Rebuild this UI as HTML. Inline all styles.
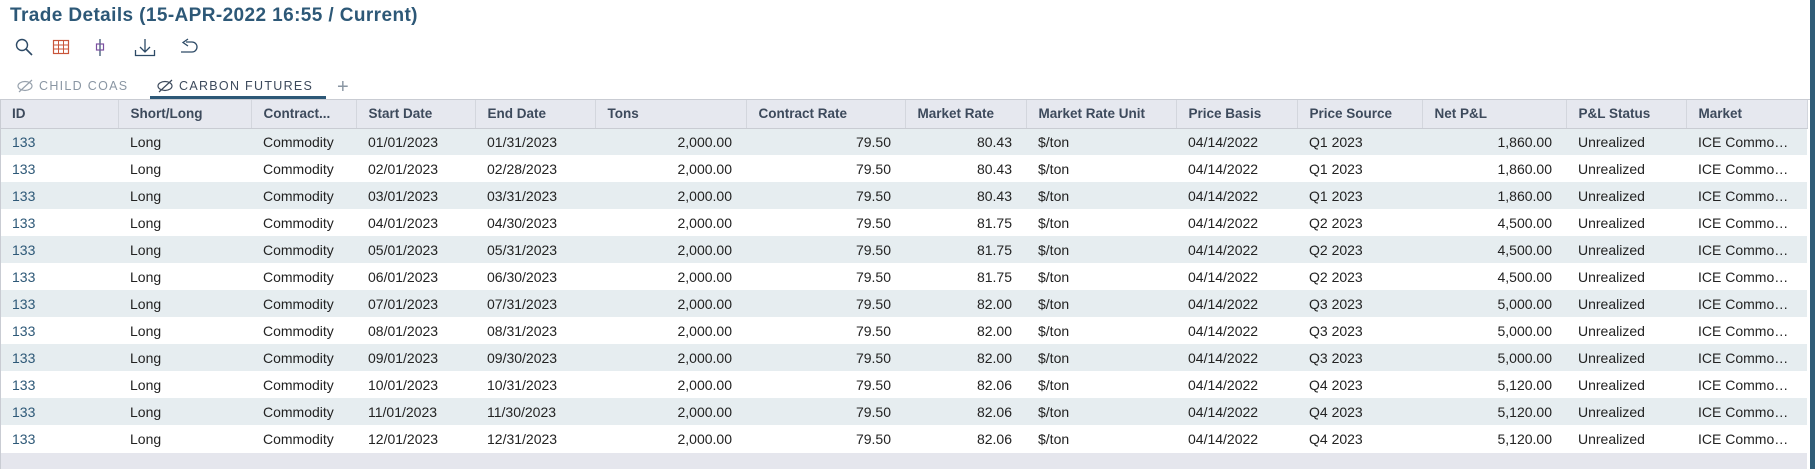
<!DOCTYPE html>
<html><head><meta charset="utf-8"><style>
*{margin:0;padding:0;box-sizing:border-box}
body{width:1815px;height:469px;background:#fff;font-family:"Liberation Sans",Arial,sans-serif;position:relative;overflow:hidden}
.title{position:absolute;left:10px;top:5px;font-size:19px;font-weight:bold;color:#2d5877;letter-spacing:0.4px}
.ic{position:absolute;top:38px}
.tab{position:absolute;top:79px;font-size:12.5px;letter-spacing:1.3px;color:#8a96a3}
.tab.act{color:#3d4a5c}
.ul{position:absolute;left:150px;top:96px;width:176px;height:3px;background:#2d5877}
.line{position:absolute;left:0;top:99px;width:1810px;height:1px;background:#c9ccd3}
table{position:absolute;left:0;top:100px;border-collapse:collapse;table-layout:fixed;width:1807px;font-size:14px}
th{height:28px;background:#e6e8ef;color:#3d4a5c;font-weight:bold;text-align:left;padding-left:12px;border-right:1px solid #d3d6dd;border-bottom:1px solid #c9ccd3;font-size:13.5px}
td{height:27px;padding-left:12px;color:#222;white-space:nowrap;overflow:hidden}
td.r{text-align:right;padding-right:14px;padding-left:0}
td.id{color:#2d5877}
tr.a td{background:#e6edf0}
tr.b td{background:#fff}
.bot{position:absolute;left:0;top:453px;width:1807px;height:16px;background:#e5e6ed}
.sb{position:absolute;left:1810px;top:0;width:5px;height:469px;background:#2f5d78}
.lb{position:absolute;left:0;top:100px;width:1px;height:369px;background:#c9ccd3}
</style></head><body>
<div class="title">Trade Details (15-APR-2022 16:55 / Current)</div>
<svg class="ic" style="left:14px" width="20" height="20"><circle cx="8" cy="7" r="5.5" fill="none" stroke="#2d4a66" stroke-width="1.4"/><line x1="12" y1="11" x2="18" y2="17" stroke="#2d4a66" stroke-width="1.6"/></svg>
<svg class="ic" style="left:52px" width="20" height="20"><rect x="1.5" y="2.5" width="15" height="13" fill="none" stroke="#c9553a" stroke-width="1.2"/><path d="M1.5 7h15M1.5 11h15M6.5 2.5v13M11.5 2.5v13" stroke="#c9553a" stroke-width="1"/></svg>
<svg class="ic" style="left:92px" width="20" height="20"><line x1="8" y1="1" x2="8" y2="18" stroke="#2d4a66" stroke-width="1.2"/><rect x="4.5" y="6" width="7" height="6" fill="none" stroke="#7b4fa0" stroke-width="1.2"/></svg>
<svg class="ic" style="left:134px" width="24" height="20"><path d="M11 1v13M6 9l5 5 5-5" fill="none" stroke="#2d4a66" stroke-width="1.3"/><path d="M1.5 12v5.5h19V12" fill="none" stroke="#2d4a66" stroke-width="1.3"/></svg>
<svg class="ic" style="left:177px" width="24" height="20"><path d="M4 14h11a5 5 0 0 0 0-10H9" fill="none" stroke="#2d4a66" stroke-width="1.3"/><path d="M11 1L6 4.5l5 3.5" fill="none" stroke="#2d4a66" stroke-width="1.3"/></svg>
<svg style="position:absolute;left:17px;top:79px" width="18" height="14"><ellipse cx="8" cy="7" rx="7" ry="4.5" fill="none" stroke="#98a2ad" stroke-width="1.2"/><line x1="2" y1="13" x2="15" y2="1" stroke="#98a2ad" stroke-width="1.2"/></svg>
<div class="tab" style="left:39px">CHILD COAS</div>
<svg style="position:absolute;left:157px;top:79px" width="18" height="14"><ellipse cx="8" cy="7" rx="7" ry="4.5" fill="none" stroke="#3d4a5c" stroke-width="1.2"/><line x1="2" y1="13" x2="15" y2="1" stroke="#3d4a5c" stroke-width="1.2"/></svg>
<div class="tab act" style="left:179px">CARBON FUTURES</div>
<div style="position:absolute;left:337px;top:76px;font-size:20px;color:#8a96a3">+</div>
<div class="line"></div>
<div class="ul"></div>
<table>
<colgroup><col style="width:118px"><col style="width:133px"><col style="width:105px"><col style="width:119px"><col style="width:120px"><col style="width:151px"><col style="width:159px"><col style="width:121px"><col style="width:150px"><col style="width:121px"><col style="width:125px"><col style="width:144px"><col style="width:120px"><col style="width:121px"></colgroup>
<tr><th>ID</th><th>Short/Long</th><th>Contract...</th><th>Start Date</th><th>End Date</th><th>Tons</th><th>Contract Rate</th><th>Market Rate</th><th>Market Rate Unit</th><th>Price Basis</th><th>Price Source</th><th>Net P&amp;L</th><th>P&amp;L Status</th><th>Market</th></tr>
<tr class="a"><td class="id">133</td><td>Long</td><td>Commodity</td><td>01/01/2023</td><td>01/31/2023</td><td class="r">2,000.00</td><td class="r">79.50</td><td class="r">80.43</td><td>$/ton</td><td>04/14/2022</td><td>Q1 2023</td><td class="r">1,860.00</td><td>Unrealized</td><td>ICE Commo…</td></tr>
<tr class="b"><td class="id">133</td><td>Long</td><td>Commodity</td><td>02/01/2023</td><td>02/28/2023</td><td class="r">2,000.00</td><td class="r">79.50</td><td class="r">80.43</td><td>$/ton</td><td>04/14/2022</td><td>Q1 2023</td><td class="r">1,860.00</td><td>Unrealized</td><td>ICE Commo…</td></tr>
<tr class="a"><td class="id">133</td><td>Long</td><td>Commodity</td><td>03/01/2023</td><td>03/31/2023</td><td class="r">2,000.00</td><td class="r">79.50</td><td class="r">80.43</td><td>$/ton</td><td>04/14/2022</td><td>Q1 2023</td><td class="r">1,860.00</td><td>Unrealized</td><td>ICE Commo…</td></tr>
<tr class="b"><td class="id">133</td><td>Long</td><td>Commodity</td><td>04/01/2023</td><td>04/30/2023</td><td class="r">2,000.00</td><td class="r">79.50</td><td class="r">81.75</td><td>$/ton</td><td>04/14/2022</td><td>Q2 2023</td><td class="r">4,500.00</td><td>Unrealized</td><td>ICE Commo…</td></tr>
<tr class="a"><td class="id">133</td><td>Long</td><td>Commodity</td><td>05/01/2023</td><td>05/31/2023</td><td class="r">2,000.00</td><td class="r">79.50</td><td class="r">81.75</td><td>$/ton</td><td>04/14/2022</td><td>Q2 2023</td><td class="r">4,500.00</td><td>Unrealized</td><td>ICE Commo…</td></tr>
<tr class="b"><td class="id">133</td><td>Long</td><td>Commodity</td><td>06/01/2023</td><td>06/30/2023</td><td class="r">2,000.00</td><td class="r">79.50</td><td class="r">81.75</td><td>$/ton</td><td>04/14/2022</td><td>Q2 2023</td><td class="r">4,500.00</td><td>Unrealized</td><td>ICE Commo…</td></tr>
<tr class="a"><td class="id">133</td><td>Long</td><td>Commodity</td><td>07/01/2023</td><td>07/31/2023</td><td class="r">2,000.00</td><td class="r">79.50</td><td class="r">82.00</td><td>$/ton</td><td>04/14/2022</td><td>Q3 2023</td><td class="r">5,000.00</td><td>Unrealized</td><td>ICE Commo…</td></tr>
<tr class="b"><td class="id">133</td><td>Long</td><td>Commodity</td><td>08/01/2023</td><td>08/31/2023</td><td class="r">2,000.00</td><td class="r">79.50</td><td class="r">82.00</td><td>$/ton</td><td>04/14/2022</td><td>Q3 2023</td><td class="r">5,000.00</td><td>Unrealized</td><td>ICE Commo…</td></tr>
<tr class="a"><td class="id">133</td><td>Long</td><td>Commodity</td><td>09/01/2023</td><td>09/30/2023</td><td class="r">2,000.00</td><td class="r">79.50</td><td class="r">82.00</td><td>$/ton</td><td>04/14/2022</td><td>Q3 2023</td><td class="r">5,000.00</td><td>Unrealized</td><td>ICE Commo…</td></tr>
<tr class="b"><td class="id">133</td><td>Long</td><td>Commodity</td><td>10/01/2023</td><td>10/31/2023</td><td class="r">2,000.00</td><td class="r">79.50</td><td class="r">82.06</td><td>$/ton</td><td>04/14/2022</td><td>Q4 2023</td><td class="r">5,120.00</td><td>Unrealized</td><td>ICE Commo…</td></tr>
<tr class="a"><td class="id">133</td><td>Long</td><td>Commodity</td><td>11/01/2023</td><td>11/30/2023</td><td class="r">2,000.00</td><td class="r">79.50</td><td class="r">82.06</td><td>$/ton</td><td>04/14/2022</td><td>Q4 2023</td><td class="r">5,120.00</td><td>Unrealized</td><td>ICE Commo…</td></tr>
<tr class="b"><td class="id">133</td><td>Long</td><td>Commodity</td><td>12/01/2023</td><td>12/31/2023</td><td class="r">2,000.00</td><td class="r">79.50</td><td class="r">82.06</td><td>$/ton</td><td>04/14/2022</td><td>Q4 2023</td><td class="r">5,120.00</td><td>Unrealized</td><td>ICE Commo…</td></tr>
</table>
<div class="bot"></div>
<div class="lb"></div>
<div class="sb"></div>
</body></html>
